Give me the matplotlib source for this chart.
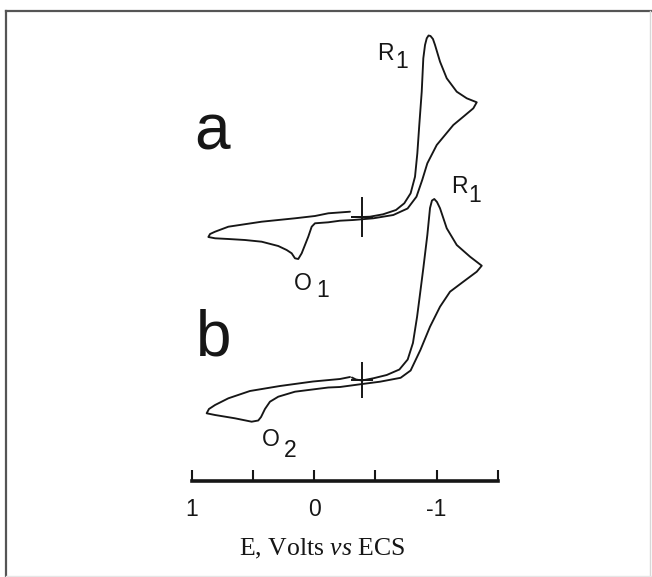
import matplotlib
matplotlib.use("Agg")
import matplotlib.pyplot as plt
from matplotlib.lines import Line2D

# ---- cyclic voltammograms (E in V vs ECS, current in arbitrary units) ----
E_start = -0.39

E_a = [-0.311, -0.393, -0.459, -0.566, -0.672, -0.740, -0.792, -0.828, -0.847,
       -0.863, -0.883, -0.896, -0.910, -0.924, -0.939, -0.955, -0.975, -0.992,
       -1.033, -1.088, -1.170, -1.252, -1.334,
       -1.306, -1.224, -1.142, -1.074, -1.006, -0.929, -0.887, -0.840, -0.767,
       -0.650, -0.486, -0.322, -0.213, -0.117, -0.008, 0.019, 0.047, 0.074,
       0.101, 0.129, 0.156, 0.183, 0.224, 0.293, 0.429, 0.566, 0.702, 0.811,
       0.866,
       0.852, 0.811, 0.702, 0.429, 0.156, -0.008, -0.117, -0.295]
I_a = [0.0, 0.0, 0.3, 2.7, 7.0, 13.7, 23.7, 40.3, 63.7,
       92.0, 125.3, 158.7, 172.0, 178.7, 181.5, 181.0, 178.0, 172.0,
       155.3, 138.7, 125.3, 118.7, 114.7,
       108.7, 100.3, 92.0, 82.0, 72.0, 53.7, 37.0, 20.3, 8.5,
       2.0, -1.3, -3.0, -3.7, -5.3, -6.3, -9.7, -19.7, -28.0,
       -36.3, -42.0, -41.3, -36.3, -33.0, -29.0, -24.7, -23.0, -22.0, -21.3,
       -20.0,
       -17.0, -14.7, -9.7, -4.7, -1.3, 1.0, 3.7, 5.3]

E_b = [-0.311, -0.344, -0.393, -0.486, -0.596, -0.700, -0.768, -0.811, -0.845,
       -0.867, -0.896, -0.929, -0.951, -0.967, -0.986, -1.008, -1.033, -1.088,
       -1.170, -1.279, -1.375,
       -1.334, -1.224, -1.115, -1.033, -0.951, -0.872, -0.792, -0.710, -0.541,
       -0.377, -0.213, -0.117, 0.156, 0.293, 0.361, 0.402, 0.434, 0.457,
       0.511, 0.648, 0.811, 0.880,
       0.861, 0.811, 0.702, 0.525, 0.279, 0.008, -0.213, -0.295]
I_b = [2.5, 0.5, -0.5, 1.7, 5.0, 10.5, 20.5, 37.0, 63.3,
       84.0, 111.7, 145.0, 172.0, 179.5, 181.0, 178.0, 171.7, 151.7,
       135.0, 123.3, 114.3,
       108.3, 98.3, 88.3, 73.3, 53.3, 30.0, 9.5, 2.2, -1.7,
       -4.3, -7.0, -7.5, -11.7, -16.7, -21.7, -29.0, -37.0, -40.5,
       -41.7, -38.3, -35.0, -33.3,
       -29.0, -25.0, -18.3, -11.0, -6.0, -1.5, 1.0, 3.0]

scale_ticks = [1.0, 0.5, 0.0, -0.5, -1.0, -1.5]
scale_labels = ["1", "", "0", "", "-1", ""]
xlabel = "E, Volts $\\mathit{vs}$ ECS"

# ---- figure ----
plt.rcParams["mathtext.fontset"] = "custom"
plt.rcParams["mathtext.rm"] = "Liberation Serif"
plt.rcParams["mathtext.it"] = "Liberation Serif:italic"

W, H = 652, 577
fig = plt.figure(figsize=(W / 100, H / 100), dpi=100)
fig.patch.set_facecolor("white")


def fx(px):
    return px / W


def fy(py):
    return 1 - py / H


ink = "#161616"

# drawing area with the potential scale: 122 px per volt, 0 V at x = 314 px
ax = fig.add_axes([0, 0, 1, 1])
ax.set_xlim(314 / 122, (314 - W) / 122)
ax.set_ylim(0, H)
ax.axis("off")

off_a = H - 217
off_b = H - 380

ax.plot(E_a, [v + off_a for v in I_a], color=ink, lw=1.35,
        solid_joinstyle="round", solid_capstyle="round")
ax.plot(E_b, [v + off_b for v in I_b], color=ink, lw=1.35,
        solid_joinstyle="round", solid_capstyle="round")

for off, vlen in ((off_a, 29), (off_b, 26)):
    ax.plot([E_start], [off], marker="|", ms=vlen, mew=1.4, color=ink)
    ax.plot([E_start], [off], marker="_", ms=16, mew=1.4, color=ink)

# ---- scale bar ----
sax = fig.add_axes([fx(192), fy(481), fx(497.7) - fx(192), 0.05])
sax.set_xlim(1.0, -1.5)
sax.set_ylim(0, 1)
sax.patch.set_alpha(0)
for s in ("top", "left", "right"):
    sax.spines[s].set_visible(False)
sax.spines["bottom"].set_linewidth(2.6)
sax.spines["bottom"].set_color(ink)
sax.set_yticks([])
sax.set_xticks(scale_ticks)
sax.set_xticklabels(scale_labels, family="Liberation Sans", fontsize=16.5)
sax.tick_params(axis="x", direction="in", length=8, width=1.5, color=ink,
                pad=12, labelcolor=ink)

fig.text(fx(322), fy(555), xlabel, ha="center", va="baseline",
         family="Liberation Serif", fontsize=18.5, color=ink)

# ---- panel letters and peak labels ----
fig.text(fx(212.5), fy(150), "a", ha="center", va="baseline",
         family="Liberation Sans", fontsize=46, color=ink)
fig.text(fx(214), fy(355), "b", ha="center", va="baseline",
         family="Liberation Sans", fontsize=46, color=ink)

labels = [("R", 385, 60), ("1", 402, 68),
          ("R", 459, 193.3), ("1", 475, 201.7),
          ("O", 302.5, 289.5), ("1", 322.5, 296.7),
          ("O", 271, 446), ("2", 290, 456.7)]
for s, x, y in labels:
    fig.text(fx(x), fy(y), s, ha="center", va="baseline",
             family="Liberation Sans", fontsize=16.5, color=ink)

# ---- frame ----
fig.add_artist(Line2D([fx(6), fx(652)], [fy(11), fy(11)], color="#555555", lw=1.6))
fig.add_artist(Line2D([fx(6), fx(6)], [fy(11), fy(577)], color="#555555", lw=1.6))
fig.add_artist(Line2D([fx(649.5), fx(649.5)], [fy(11), fy(577)], color="#d8d8d8", lw=1.0))
fig.add_artist(Line2D([fx(6), fx(652)], [fy(575.5), fy(575.5)], color="#e6e6e6", lw=1.0))

fig.savefig("out.png", dpi=100, facecolor="white")
